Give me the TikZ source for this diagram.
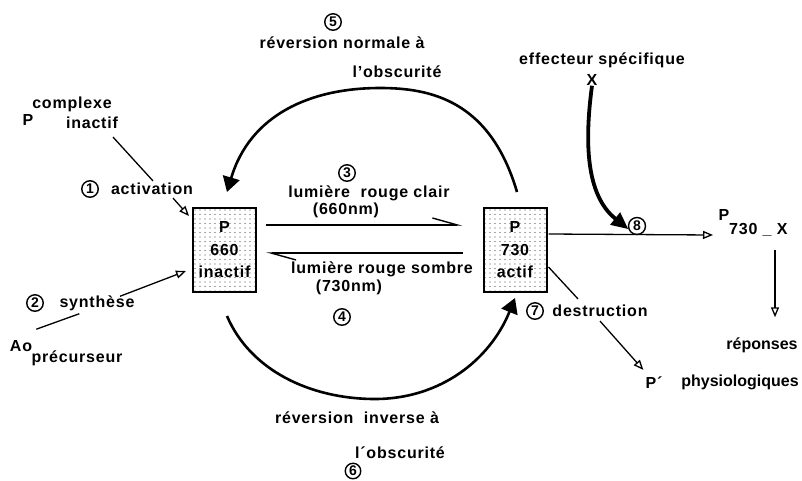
\documentclass[tikz,border=0pt]{standalone}
\usepackage{fontspec}
\setmainfont{Liberation Sans}
\newfontfamily\lblfont{Liberation Sans}[LetterSpace=5]
\usetikzlibrary{arrows.meta,patterns.meta,calc}
\tikzdeclarepattern{
  name=stipple,
  type=uncolored,
  bottom left={(-2.5pt,-2.5pt)},
  top right={(2.5pt,2.5pt)},
  tile size={(5pt,4.5pt)},
  code={\fill (0pt,0pt) circle[radius=0.6pt];}
}
\tikzset{
  lbl/.style={inner sep=0pt, font=\fontsize{16}{19}\lblfont\bfseries},
  plbl/.style={inner sep=0pt, font=\fontsize{16}{19}\selectfont\bfseries},
  num/.style={circle, draw, line width=1.4pt, minimum size=16.5pt, inner sep=0pt,
    font=\fontsize{14}{14}\selectfont\bfseries},
  boxst/.style={draw, line width=2pt, pattern=stipple, pattern color=black!70,
    minimum width=63pt, minimum height=84pt, inner sep=0pt, align=center,
    font=\fontsize{16}{22.5}\lblfont\bfseries},
  thinln/.style={line width=1.3pt},
  openarr/.style={line width=1.3pt, -{Triangle[open, length=10pt, width=8pt]}},
  harp/.style={line width=1.4pt, -{Straight Barb[harpoon, length=25pt, width=14pt, line width=1.4pt]}},
  bigarc/.style={line width=2.6pt, -{Triangle[length=15pt, width=17pt]}},
  xarrow/.style={line width=3.8pt, -{Triangle[length=17pt, width=15pt]}}
}
\begin{document}
\begin{tikzpicture}[x=1pt,y=-1pt]
\useasboundingbox (0,0) rectangle (802,480);

% boxes
\node[boxst] (A) at (224.5,250) {P\\660\\inactif};
\node[boxst] (B) at (515,250) {P\\730\\actif};

% top reversion
\node[num] (c5) at (333,22) {5};
\node[lbl] (rev1) at (342,43) {réversion normale à};
\node[lbl] (obs1) at (397,72) {l’obscurité};
\draw[bigarc] ($(B.north)+(2,-15)$) .. controls (490,100) and (430,88) .. (380,88)
  .. controls (310,88) and (250,115) .. ($(A.north)+(2.5,-15)$);

% light arrows
\node[num] (c3) at (347,173) {3};
\node[lbl] (l3) at (369,193) {lumière\ \ rouge clair};
\node[lbl] (n3) at (346,210) {(660nm)};
\draw[harp] ($(A.east)+(9,-25)$) -- ($(B.west)+(-20,-25)$);
\draw[harp] ($(B.west)+(-20,3)$) -- ($(A.east)+(9,3)$);
\node[lbl] (l4) at (382,269) {lumière rouge sombre};
\node[lbl] (n4) at (349,287) {(730nm)};
\node[num] (c4) at (342,317) {4};

% bottom reversion
\draw[bigarc] ($(A.south)+(2.5,23)$) .. controls (250,370) and (310,399) .. (375,399)
  .. controls (440,399) and (490,360) .. ($(B.south)+(0,5)$);
\node[lbl] (rev2) at (357,418) {réversion\ \ inverse à};
\node[lbl] (obs2) at (400,453) {l´obscurité};
\node[num, minimum size=15.5pt] (c6) at (353,471) {6};

% activation
\node[lbl] (Pc) at (28,120) {P};
\node[lbl] (comp) at (72,104) {complexe};
\node[lbl] (inac) at (92,123) {inactif};
\node[num] (c1) at (90,189) {1};
\node[lbl] (act) at (152,189) {activation};
\draw[thinln] ($(inac.south)+(21,8)$) -- ($(act.north)+(1,-2)$);
\draw[openarr] ($(act.south)+(21,3)$) -- ($(A.north west)+(-3,9)$);

% synthesis
\node[num] (c2) at (35,303) {2};
\node[lbl] (syn) at (97,303) {synthèse};
\node[lbl] (Ao) at (21,346) {Ao};
\node[lbl] (prec) at (77,358) {précurseur};
\draw[thinln] ($(Ao.north east)+(4,-11)$) -- ($(syn.south west)+(20,3)$);
\draw[openarr] ($(syn.north)+(23,1)$) -- ($(A.west)+(-6,21)$);

% effector
\node[lbl] (eff) at (602,60) {effecteur spécifique};
\node[lbl] (X) at (592,80) {X};
\node[num, minimum size=17pt] (c8) at (637,226) {8};
\draw[xarrow] (X.south) .. controls (582,160) and (592,200) .. (c8.200);
\node[lbl] (P2) at (724,215) {P};
\node[lbl, anchor=west] (n730) at (729,230) {730 \_ X};
\draw[openarr] ($(B.east)+(1,-16)$) -- ($(n730.west)+(-16,5)$);
\node[plbl] (resp) at (762,345) {réponses};
\node[plbl] (phys) at (740,382) {physiologiques};
\coordinate (v1) at (775,250);
\draw[openarr] (v1) -- ($(resp.north)+(13,-20)$);

% destruction
\node[num] (c7) at (535,311) {7};
\node[lbl] (dest) at (600,311) {destruction};
\node[lbl] (Pp) at (654,383) {P´};
\draw[thinln] ($(B.east)+(1,17)$) -- ($(dest.north)+(-22,-6)$);
\draw[openarr] ($(dest.south)+(0,4)$) -- ($(Pp.north west)+(-2,-7)$);
\end{tikzpicture}
\end{document}
